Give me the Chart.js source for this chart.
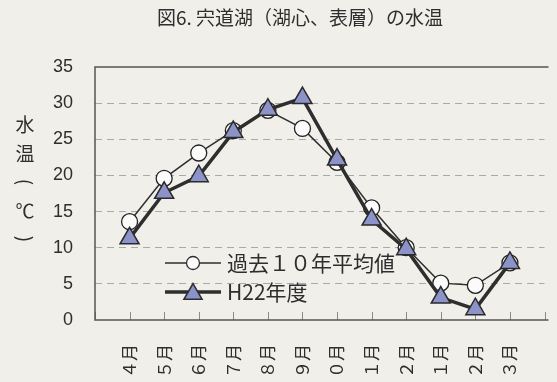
<!DOCTYPE html>
<html lang="ja">
<head>
<meta charset="utf-8">
<title>宍道湖（湖心、表層）の水温</title>
<script src="https://cdn.jsdelivr.net/npm/chart.js@4.4.1/dist/chart.umd.min.js"></script>
<style>
  html, body { margin: 0; padding: 0; background: #f0efea; overflow: hidden; }
  #wrap { width: 557px; height: 382px; overflow: hidden; }
  canvas { display: block; }
</style>
</head>
<body>
<div id="wrap"><canvas id="water-temp-chart" width="557" height="400"></canvas></div>
<script>
/* ===================== DATA ===================== */

const months = ["４月", "５月", "６月", "７月", "８月", "９月", "１０月", "１１月", "１２月", "１月", "２月", "３月"];
const avg10Years = [13.6, 19.6, 23.1, 26.2, 29.0, 26.5, 21.8, 15.5, 10.0, 5.1, 4.8, 7.9];
const h22 = [11.3, 17.6, 19.9, 26.0, 29.1, 30.7, 22.2, 13.9, 9.8, 3.1, 1.5, 7.9];
const yTicks = [0, 5, 10, 15, 20, 25, 30, 35];

const chartTitle = "図6. 宍道湖（湖心、表層）の水温";
const yAxisTitle = ["水", "温", "(", "℃", ")"];
const legendLabels = ["過去１０年平均値", "H22年度"];

/* ===================== STYLE ===================== */

const JP_FONT = '"Noto Sans CJK JP", sans-serif';
const NUM_FONT = '"Liberation Sans", "Noto Sans CJK JP", sans-serif';
const INK = "#2e2e2e";
const TRI_FILL = "#8c93c8";

// empty slot at each end so the first / last month sit one step in from the frame
const xLabels = ["", ...months, ""];
const pad = (arr) => [null, ...arr, null];

/* ===================== PLUGINS ===================== */

const framePlugin = {
  id: "frame",
  beforeDatasetsDraw(chart) {
    const { ctx, chartArea: a } = chart;
    const xs = chart.scales.x;

    ctx.save();
    // small tick marks pointing up from the bottom axis
    ctx.strokeStyle = "#8a8a8a";
    ctx.lineWidth = 1;
    ctx.beginPath();
    xs.ticks.forEach((t, i) => {
      const px = Math.round(xs.getPixelForTick(i)) + 0.5;
      ctx.moveTo(px, a.bottom);
      ctx.lineTo(px, a.bottom - 8);
    });
    ctx.stroke();

    // frame: top, left, bottom (no right side)
    ctx.strokeStyle = "#555";
    ctx.lineWidth = 1.5;
    ctx.beginPath();
    ctx.moveTo(a.right + 4, a.top);
    ctx.lineTo(a.left, a.top);
    ctx.lineTo(a.left, a.bottom);
    ctx.lineTo(a.right + 4, a.bottom);
    ctx.stroke();
    ctx.restore();
  },
};

// month labels: rotated, end of text anchored just under the axis
const monthLabelPlugin = {
  id: "monthLabels",
  afterDraw(chart) {
    const { ctx, chartArea: a } = chart;
    const xs = chart.scales.x;
    ctx.save();
    ctx.fillStyle = INK;
    ctx.font = `17px ${JP_FONT}`;
    ctx.textAlign = "right";
    ctx.textBaseline = "middle";
    xs.ticks.forEach((t, i) => {
      const label = xs.getLabelForValue(t.value);
      if (!label) return;
      ctx.save();
      ctx.translate(xs.getPixelForTick(i), a.bottom + 24);
      ctx.rotate(-Math.PI / 2);
      ctx.fillText(label, 0, 0);
      ctx.restore();
    });
    ctx.restore();
  },
};

const textPlugin = {
  id: "texts",
  afterDraw(chart) {
    const { ctx } = chart;
    ctx.save();
    ctx.fillStyle = INK;
    ctx.textBaseline = "middle";

    // title
    ctx.font = `19px ${JP_FONT}`;
    ctx.textAlign = "center";
    ctx.fillText(chartTitle, 300, 18);

    // vertical y-axis title, brackets turned sideways
    ctx.font = `19px ${JP_FONT}`;
    yAxisTitle.forEach((ch, i) => {
      const y = 125 + i * 28.5;
      if (ch === "(" || ch === ")") {
        ctx.save();
        ctx.translate(25, y);
        ctx.rotate(Math.PI / 2);
        ctx.fillText(ch, 0, 0);
        ctx.restore();
      } else {
        ctx.fillText(ch, 25, y);
      }
    });

    // legend
    const rows = [
      { y: 263, lw: 1.5, style: "circle", r: 6.5, fill: "#fbfbfb", bw: 1.3 },
      { y: 292, lw: 3.5, style: "triangle", r: 10.5, fill: TRI_FILL, bw: 1.5 },
    ];
    rows.forEach((row, i) => {
      ctx.strokeStyle = INK;
      ctx.lineWidth = row.lw;
      ctx.beginPath();
      ctx.moveTo(165, row.y);
      ctx.lineTo(221, row.y);
      ctx.stroke();

      ctx.fillStyle = row.fill;
      ctx.lineWidth = row.bw;
      Chart.helpers.drawPoint(ctx, {
        pointStyle: row.style,
        radius: row.r,
        rotation: 0,
        borderWidth: row.bw,
      }, 193, row.style === "triangle" ? row.y + 2 : row.y);

      ctx.fillStyle = INK;
      ctx.textAlign = "left";
      ctx.font = `21px ${JP_FONT}`;
      ctx.fillText(legendLabels[i], 227, row.y);
    });

    ctx.restore();
  },
};

/* ===================== CHART ===================== */

const canvas = document.getElementById("water-temp-chart");

new Chart(canvas, {
  type: "line",
  data: {
    labels: xLabels,
    datasets: [
      {
        label: legendLabels[0],
        data: pad(avg10Years),
        order: 1,
        borderColor: INK,
        borderWidth: 1.5,
        tension: 0,
        pointStyle: "circle",
        pointRadius: 8,
        pointBackgroundColor: "#fbfbfb",
        pointBorderColor: "#222",
        pointBorderWidth: 1.3,
      },
      {
        label: legendLabels[1],
        data: pad(h22),
        order: 0,
        borderColor: INK,
        borderWidth: 3.5,
        tension: 0,
        pointStyle: "triangle",
        pointRadius: 11,
        pointBackgroundColor: TRI_FILL,
        pointBorderColor: "#2a2a2a",
        pointBorderWidth: 1.5,
      },
    ],
  },
  options: {
    responsive: false,
    animation: false,
    devicePixelRatio: 1,
    layout: { padding: { top: 67, right: 1, left: 0, bottom: 0 } },
    plugins: {
      legend: { display: false },
      title: { display: false },
      tooltip: { enabled: false },
    },
    scales: {
      x: {
        type: "category",
        offset: false,
        grid: { display: false },
        border: { display: false },
        ticks: { display: false, autoSkip: false },
        afterFit(scale) {
          scale.height = 80;
          scale.paddingLeft = 0;
          scale.paddingRight = 0;
        },
      },
      y: {
        min: 0,
        max: 35,
        afterBuildTicks(scale) {
          scale.ticks = yTicks.map((v) => ({ value: v }));
        },
        grid: {
          drawTicks: false,
          color: (c) => (c.tick && (c.tick.value === 0 || c.tick.value === 35) ? "transparent" : "#a9a9a9"),
          lineWidth: 1,
        },
        border: { display: false, dash: [7, 5] },
        ticks: {
          padding: 22,
          color: INK,
          font: { family: NUM_FONT, size: 18 },
        },
        afterFit(scale) {
          scale.width = 95;
        },
      },
    },
  },
  plugins: [framePlugin, monthLabelPlugin, textPlugin],
});
</script>
</body>
</html>
